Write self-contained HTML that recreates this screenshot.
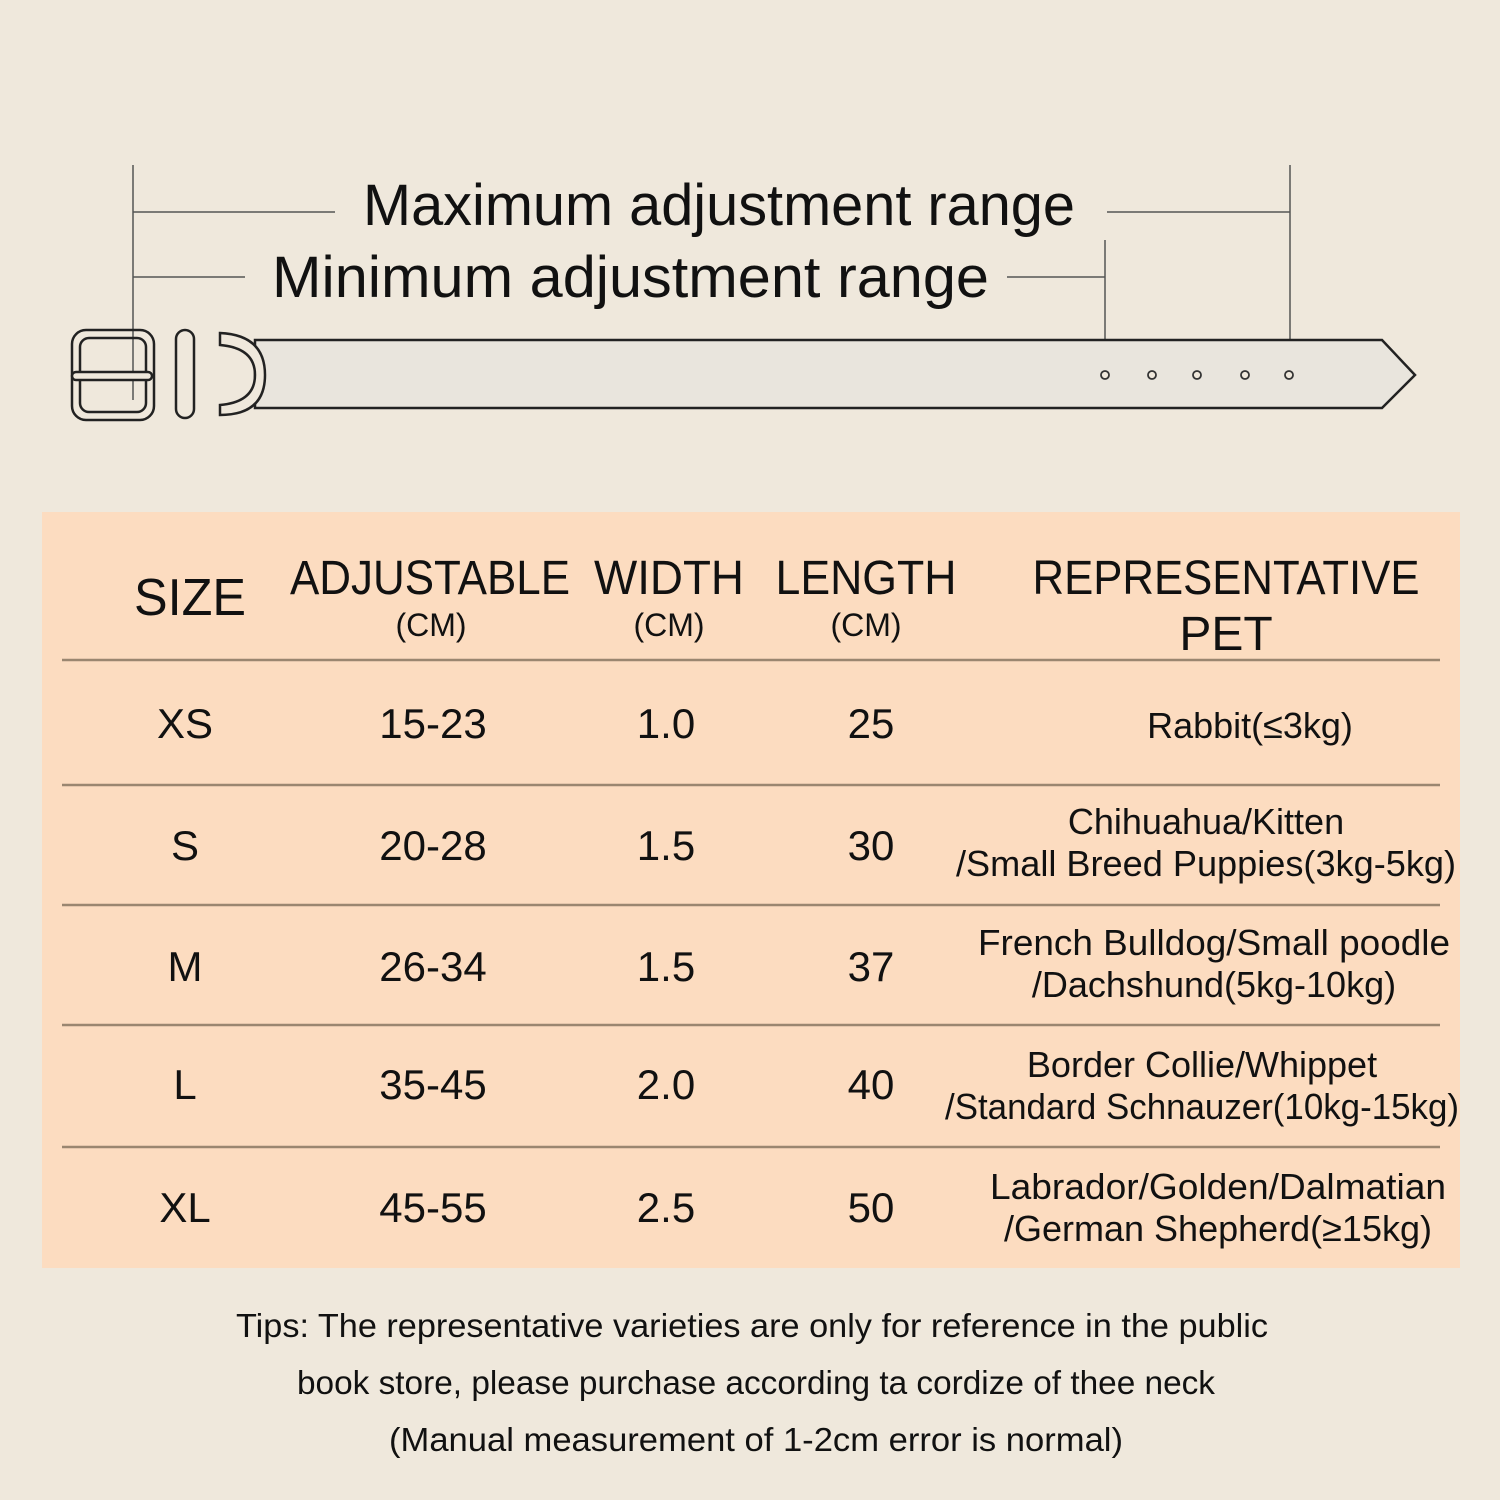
<!DOCTYPE html>
<html><head><meta charset="utf-8"><style>
html,body{margin:0;padding:0;background:#efe8dc}
svg{display:block}
text{font-family:"Liberation Sans",sans-serif;fill:#111}
</style></head><body>
<svg width="1500" height="1500" viewBox="0 0 1500 1500">
<rect width="1500" height="1500" fill="#efe8dc"/>
<g stroke="#555" stroke-width="1.5" fill="none">
<line x1="133" y1="165" x2="133" y2="400"/>
<line x1="133" y1="212" x2="335" y2="212"/>
<line x1="133" y1="277" x2="245" y2="277"/>
<line x1="1107" y1="212" x2="1290" y2="212"/>
<line x1="1290" y1="165" x2="1290" y2="372"/>
<line x1="1007" y1="277" x2="1105" y2="277"/>
<line x1="1105" y1="240" x2="1105" y2="372"/>
</g>
<text x="363" y="225" font-size="58" textLength="712" lengthAdjust="spacingAndGlyphs">Maximum adjustment range</text>
<text x="272" y="297" font-size="58" textLength="717" lengthAdjust="spacingAndGlyphs">Minimum adjustment range</text>
<g stroke="#222" stroke-width="2.5" fill="#e9e5dd">
<path d="M255 340 L1382 340 L1415 375 L1382 408 L255 408 Z"/>
<path d="M220 333 Q265 335 265 375 Q265 415 220 415 L220 405 Q255 402 255 375 Q255 348 220 345 Z" fill="#efe8dc"/>
<rect x="72" y="330" width="82" height="90" rx="14" fill="none"/>
<rect x="80" y="338" width="66" height="74" rx="9" fill="none"/>
<rect x="72" y="372" width="80" height="8" rx="4" fill="#efe8dc"/>
<rect x="176" y="330" width="18" height="88" rx="9" fill="#efe8dc"/>
</g>
<g fill="#efe8dc" stroke="#333" stroke-width="1.8">
<circle cx="1105" cy="375" r="4"/><circle cx="1152" cy="375" r="4"/><circle cx="1197" cy="375" r="4"/><circle cx="1245" cy="375" r="4"/><circle cx="1289" cy="375" r="4"/>
</g>
<rect x="42" y="512" width="1418" height="756" fill="#fcdcc0"/>
<g stroke="#9a8670" stroke-width="2.5">
<line x1="62" y1="660" x2="1440" y2="660"/>
<line x1="62" y1="785" x2="1440" y2="785"/>
<line x1="62" y1="905" x2="1440" y2="905"/>
<line x1="62" y1="1025" x2="1440" y2="1025"/>
<line x1="62" y1="1147" x2="1440" y2="1147"/>
</g>
<g text-anchor="middle">
<text x="190" y="615" font-size="52" textLength="112" lengthAdjust="spacingAndGlyphs">SIZE</text>
<text x="430" y="594" font-size="48" textLength="280" lengthAdjust="spacingAndGlyphs">ADJUSTABLE</text>
<text x="669" y="594" font-size="48" textLength="150" lengthAdjust="spacingAndGlyphs">WIDTH</text>
<text x="866" y="594" font-size="48" textLength="181" lengthAdjust="spacingAndGlyphs">LENGTH</text>
<text x="1226" y="594" font-size="48" textLength="387" lengthAdjust="spacingAndGlyphs">REPRESENTATIVE</text>
<text x="1226" y="650" font-size="48">PET</text>
<text x="431" y="636" font-size="32">(CM)</text>
<text x="669" y="636" font-size="32">(CM)</text>
<text x="866" y="636" font-size="32">(CM)</text>
<g font-size="42">
<text x="185" y="738">XS</text><text x="433" y="738">15-23</text><text x="666" y="738">1.0</text><text x="871" y="738">25</text>
<text x="185" y="860">S</text><text x="433" y="860">20-28</text><text x="666" y="860">1.5</text><text x="871" y="860">30</text>
<text x="185" y="981">M</text><text x="433" y="981">26-34</text><text x="666" y="981">1.5</text><text x="871" y="981">37</text>
<text x="185" y="1099">L</text><text x="433" y="1099">35-45</text><text x="666" y="1099">2.0</text><text x="871" y="1099">40</text>
<text x="185" y="1222">XL</text><text x="433" y="1222">45-55</text><text x="666" y="1222">2.5</text><text x="871" y="1222">50</text>
</g>
<g font-size="36">
<text x="1250" y="738">Rabbit(≤3kg)</text>
<text x="1206" y="834">Chihuahua/Kitten</text>
<text x="1206" y="876" textLength="500" lengthAdjust="spacingAndGlyphs">/Small Breed Puppies(3kg-5kg)</text>
<text x="1214" y="955" textLength="472" lengthAdjust="spacingAndGlyphs">French Bulldog/Small poodle</text>
<text x="1214" y="997">/Dachshund(5kg-10kg)</text>
<text x="1202" y="1077">Border Collie/Whippet</text>
<text x="1202" y="1119" textLength="514" lengthAdjust="spacingAndGlyphs">/Standard Schnauzer(10kg-15kg)</text>
<text x="1218" y="1199" textLength="456" lengthAdjust="spacingAndGlyphs">Labrador/Golden/Dalmatian</text>
<text x="1218" y="1241">/German Shepherd(≥15kg)</text>
</g>
<g font-size="33">
<text x="752" y="1337" textLength="1032" lengthAdjust="spacingAndGlyphs">Tips: The representative varieties are only for reference in the public</text>
<text x="756" y="1394" textLength="918" lengthAdjust="spacingAndGlyphs">book store, please purchase according ta cordize of thee neck</text>
<text x="756" y="1451" textLength="734" lengthAdjust="spacingAndGlyphs">(Manual measurement of 1-2cm error is normal)</text>
</g>
</g>
</svg>
</body></html>
